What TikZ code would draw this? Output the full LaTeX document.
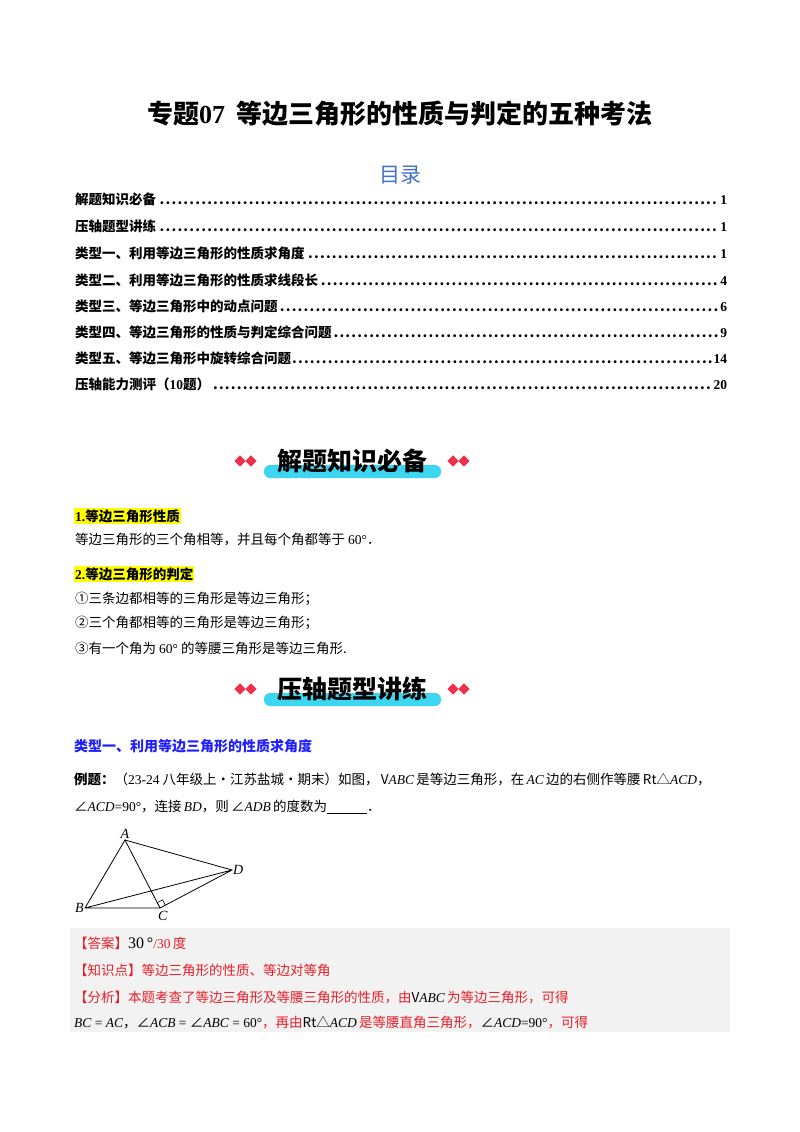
\documentclass[tikz,border=0pt]{standalone}
\usepackage{fontspec}
\usetikzlibrary{calc}
\setmainfont{Noto Sans CJK SC}
\newfontfamily\lsf{Liberation Serif}
\newcommand{\mv}[1]{{\lsf\itshape #1}}
\newcommand{\rn}[1]{{\lsf #1}}
\definecolor{tocblue}{HTML}{4472C4}
\definecolor{tblue}{HTML}{1F1FFF}
\definecolor{ared}{HTML}{E8202A}
\definecolor{hl}{HTML}{FFFF00}
\definecolor{bar}{HTML}{3DD6F0}
\definecolor{dia}{HTML}{F0304A}
\definecolor{gbox}{HTML}{F2F2F2}
\tikzset{
 txt/.style={anchor=west,inner sep=0pt,font=\fontsize{13.5}{15}\selectfont},
 toc/.style={anchor=west,inner sep=0pt,text width=652pt,align=left,font=\fontsize{13.5}{15}\selectfont\bfseries},
 dm/.style={fill=dia,minimum size=8pt,inner sep=0pt,rotate=45,draw=none},
 ban/.style={font=\fontsize{25}{28}\selectfont\bfseries,inner sep=0pt},
 seg/.style={line width=0.8pt},
 lab/.style={font=\fontsize{14}{15}\selectfont\lsf\itshape,inner sep=1pt}
}
\begin{document}
\begin{tikzpicture}[x=1pt,y=-1pt]
\useasboundingbox (0,0) rectangle (800,1132);
\node[font=\fontsize{26}{30}\selectfont\bfseries] (title) at (400,114) {专题\rn{\bfseries 07}\ \ 等边三角形的性质与判定的五种考法};
\node[font=\fontsize{21}{24}\selectfont,text=tocblue] (mulu) at (400,175) {目录};
\node[toc] (t1) at (75,199) {解题知识必备\dotfill\rn{1}};
\node[toc] (t2) at (75,226) {压轴题型讲练\dotfill\rn{1}};
\node[toc] (t3) at (75,253) {类型一、利用等边三角形的性质求角度\dotfill\rn{1}};
\node[toc] (t4) at (75,280) {类型二、利用等边三角形的性质求线段长\dotfill\rn{4}};
\node[toc] (t5) at (75,306) {类型三、等边三角形中的动点问题\dotfill\rn{6}};
\node[toc] (t6) at (75,332) {类型四、等边三角形的性质与判定综合问题\dotfill\rn{9}};
\node[toc] (t7) at (75,358) {类型五、等边三角形中旋转综合问题\dotfill\rn{14}};
\node[toc] (t8) at (75,384) {压轴能力测评（\rn{\bfseries 10}题）\dotfill\rn{20}};
% banner 1
\fill[bar,rounded corners=6pt] (264,465) rectangle (441,478);
\node[ban] (b1) at (352,461) {解题知识必备};
\node[dm] at (240,461) {};\node[dm] at (251,461) {};
\node[dm] at (453,461) {};\node[dm] at (464,461) {};
\node[txt,fill=hl,font=\fontsize{13.5}{15}\selectfont\bfseries,inner sep=1pt] (h1) at (74,516) {\rn{\bfseries 1.}等边三角形性质};
\node[txt] (p1) at (75,540) {等边三角形的三个角相等，并且每个角都等于 \rn{60°}．};
\node[txt,fill=hl,font=\fontsize{13.5}{15}\selectfont\bfseries,inner sep=1pt] (h2) at (74,574) {\rn{\bfseries 2.}等边三角形的判定};
\node[txt] (p2) at (75,599) {①三条边都相等的三角形是等边三角形；};
\node[txt] (p3) at (75,623) {②三个角都相等的三角形是等边三角形；};
\node[txt] (p4) at (75,648) {③有一个角为 \rn{60°} 的等腰三角形是等边三角形.};
% banner 2
\fill[bar,rounded corners=6pt] (264,693) rectangle (441,706);
\node[ban] (b2) at (352,689) {压轴题型讲练};
\node[dm] at (240,689) {};\node[dm] at (251,689) {};
\node[dm] at (453,689) {};\node[dm] at (464,689) {};
\node[txt,text=tblue,font=\fontsize{14}{15}\selectfont\bfseries] (ty1) at (74,746) {类型一、利用等边三角形的性质求角度};
\node[txt] (ex1) at (74,779) {\textbf{例题：}（\rn{23-24} 八年级上·江苏盐城·期末）如图，\,V\mv{ABC}\,是等边三角形，在\,\mv{AC}\,边的右侧作等腰\,Rt△\mv{ACD}，};
\node[txt] (ex2) at (74,807) {∠\mv{ACD}\rn{=90°}，连接\,\mv{BD}，则\,∠\mv{ADB}\,的度数为\rule[-2pt]{40pt}{0.6pt}．};
% figure
\coordinate (A) at (125,840);
\coordinate (B) at (85,908);
\coordinate (C) at (160,908);
\coordinate (D) at (232,870);
\draw[seg] (A)--(B)--(C)--cycle (A)--(D)--(C) (B)--(D);
\coordinate (ra1) at ($(C)!6pt!(A)$);
\coordinate (ra2) at ($(C)!6pt!(D)$);
\draw[line width=0.6pt] (ra1) -- ($(ra1)+(ra2)-(C)$) -- (ra2);
\node[lab,above] (la) at (A) {A};
\node[lab,left] (lb) at (B) {B};
\node[lab,anchor=north west] (lc) at ($(C)+(-3,2)$) {C};
\node[lab,right] (ld) at (D) {D};
% answer box
\fill[gbox] (70,928) rectangle (730,1032);
\node[txt,text=ared] (an1) at (74,943) {【答案】{\color{black}\rn{\fontsize{16}{16}\selectfont 30\,°}}\rn{/30}\,度};
\node[txt,text=ared] (an2) at (74,970) {【知识点】等边三角形的性质、等边对等角};
\node[txt,text=ared] (an3) at (74,997) {【分析】本题考查了等边三角形及等腰三角形的性质，由{\color{black}V\mv{ABC}}\,为等边三角形，可得};
\node[txt,text=ared] (an4) at (74,1023) {{\color{black}\mv{BC}\rn{ = }\mv{AC}，∠\mv{ACB}\rn{ = }∠\mv{ABC}\rn{ = 60°}}，再由{\color{black}Rt△\mv{ACD}}\,是等腰直角三角形，{\color{black}∠\mv{ACD}\rn{=90°}}，可得};
\end{tikzpicture}
\end{document}
